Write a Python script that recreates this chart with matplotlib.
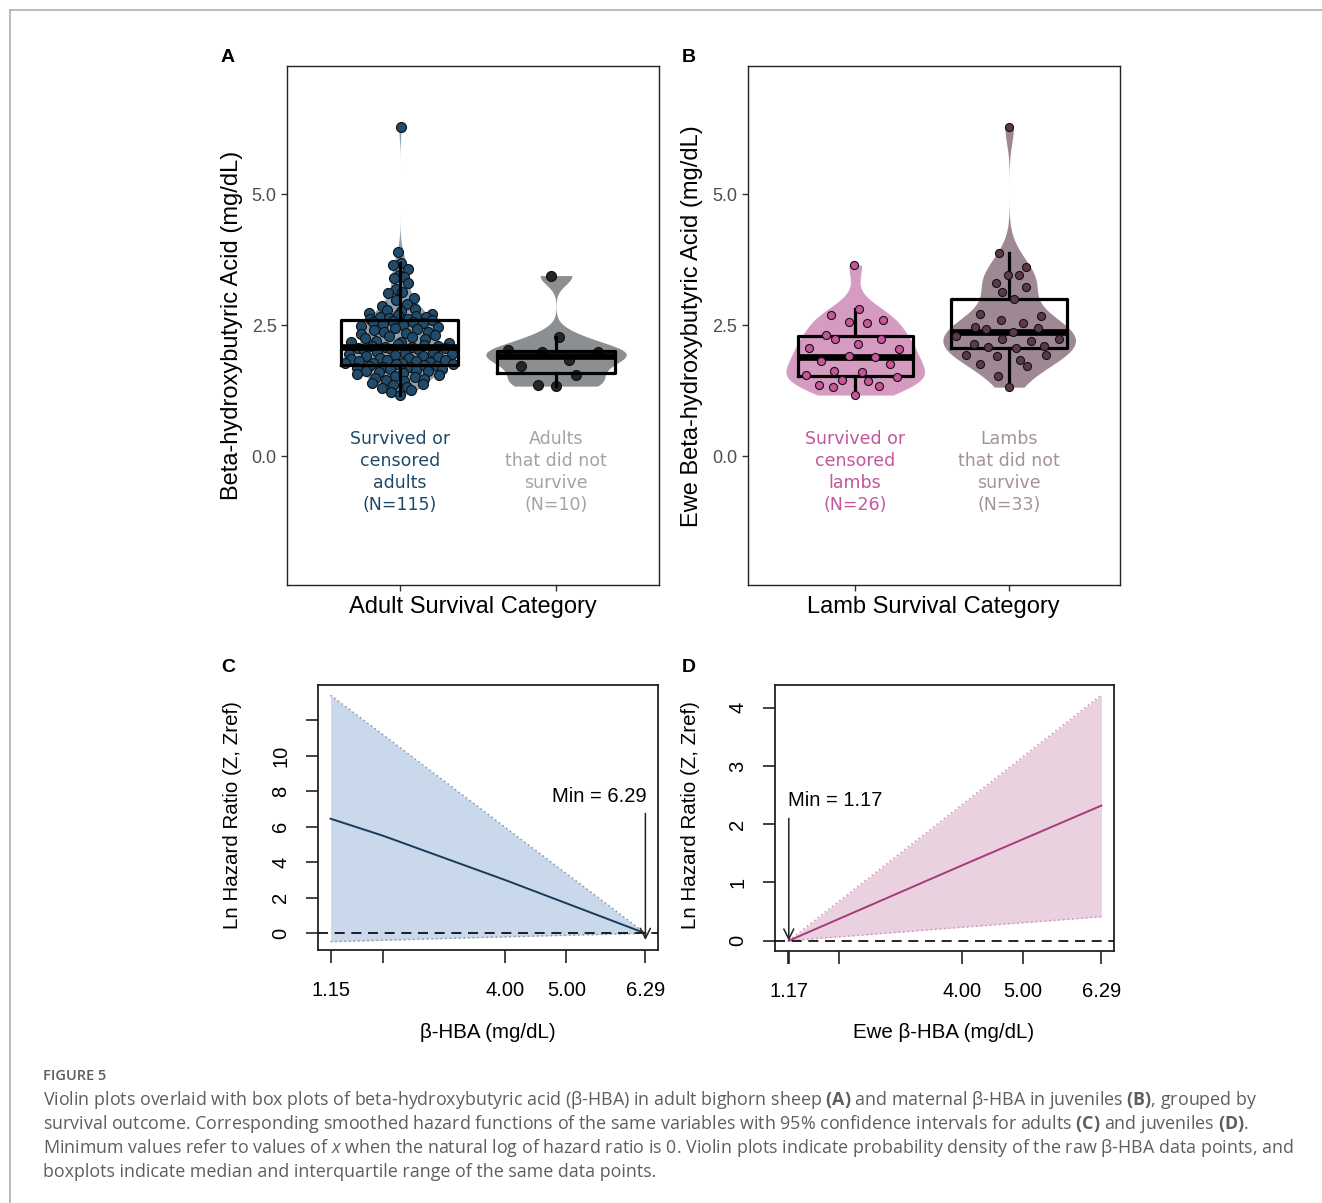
import numpy as np
import matplotlib
matplotlib.use("Agg")
import matplotlib.pyplot as plt
from matplotlib.lines import Line2D

plt.rcParams['font.family'] = ['Liberation Sans', 'DejaVu Sans']
plt.rcParams['mathtext.fontset'] = 'custom'
plt.rcParams['mathtext.rm'] = 'Open Sans'
plt.rcParams['mathtext.it'] = 'Open Sans:italic'
plt.rcParams['mathtext.bf'] = 'Open Sans:bold'

# ---------------- data ----------------
adult_survived = [
    6.29, 3.90, 3.69, 3.65, 3.57, 3.46, 3.43, 3.40, 3.31, 3.20, 3.13, 3.11, 3.02, 2.98,
    2.90, 2.86, 2.82, 2.79, 2.77, 2.74, 2.72, 2.70, 2.68, 2.66, 2.65, 2.64, 2.63, 2.62, 2.61,
    2.59, 2.57, 2.56, 2.54, 2.52, 2.50, 2.48, 2.47, 2.45, 2.43, 2.41, 2.38, 2.37, 2.35,
    2.33, 2.31, 2.29, 2.27, 2.25, 2.24, 2.21, 2.19, 2.18, 2.16, 2.14, 2.13, 2.11, 2.10,
    2.09,
    2.08, 2.07, 2.06, 2.04, 2.03, 2.02, 2.00, 1.99, 1.98, 1.96, 1.95, 1.94, 1.92, 1.91,
    1.90, 1.88, 1.87, 1.86, 1.84, 1.83, 1.82, 1.81, 1.80, 1.79, 1.78, 1.78, 1.77, 1.76,
    1.74, 1.73, 1.72, 1.71, 1.70, 1.69, 1.67, 1.66, 1.65, 1.63, 1.62, 1.60, 1.59, 1.57,
    1.55, 1.53, 1.51, 1.49, 1.47, 1.45, 1.43, 1.40, 1.38, 1.36, 1.33, 1.30, 1.27, 1.22, 1.18,
]
adult_died = [3.45, 2.27, 2.02, 2.00, 1.99, 1.83, 1.73, 1.55, 1.37, 1.34]
lamb_survived = [3.65, 2.82, 2.69, 2.57, 2.54, 2.60, 2.32, 2.24, 2.14, 2.24, 2.06, 2.05, 1.91,
                 1.90, 1.81, 1.77, 1.63, 1.60, 1.56, 1.52, 1.46, 1.43, 1.36, 1.32, 1.35, 1.17]
lamb_died = [6.28, 3.89, 3.61, 3.47, 3.46, 3.31, 3.24, 3.13, 3.00, 2.72, 2.60, 2.67, 2.55,
             2.47, 2.43, 2.45, 2.38, 2.29, 2.24, 2.21, 2.24, 2.14, 2.09, 2.07, 2.11, 1.94,
             1.91, 1.93, 1.77, 1.84, 1.72, 1.53, 1.32]

cat_text_A = [["Survived or", "censored", "adults", "(N=115)"],
              ["Adults", "that did not", "survive", "(N=10)"]]
cat_text_B = [["Survived or", "censored", "lambs", "(N=26)"],
              ["Lambs", "that did not", "survive", "(N=33)"]]
violin_yticks = [0.0, 2.5, 5.0]
violin_yticklabels = ["0.0", "2.5", "5.0"]

haz_x_adult = [1.15, 2.0, 4.0, 6.29]
haz_fit_adult = [6.45, 5.5, 3.0, 0.0]
haz_up_adult = [13.4, 11.2, 5.97, 0.0]
haz_lo_adult = [-0.47, -0.39, -0.2, 0.0]
haz_min_adult = 6.29

haz_x_lamb = [1.17, 4.0, 6.29]
haz_fit_lamb = [0.0, 1.29, 2.32]
haz_up_lamb = [0.0, 2.33, 4.22]
haz_lo_lamb = [0.0, 0.23, 0.41]
haz_min_lamb = 1.17

haz_yticks_adult = [0, 2, 4, 6, 8, 10, 12]
haz_yticklabels_adult = ["0", "2", "4", "6", "8", "10", ""]
haz_yticks_lamb = [0, 1, 2, 3, 4]
haz_yticklabels_lamb = ["0", "1", "2", "3", "4"]
haz_xticks_adult = [1.15, 2.0, 4.0, 5.0, 6.29]
haz_xticklabels_adult = ["1.15", "", "4.00", "5.00", "6.29"]
haz_xticks_lamb = [1.15, 1.17, 2.0, 4.0, 5.0, 6.29]
haz_xticklabels_lamb = ["", "1.17", "", "4.00", "5.00", "6.29"]

# ---------------- figure ----------------
W, H = 1322, 1203
fig = plt.figure(figsize=(W / 100, H / 100), dpi=100)


def add_ax(l, t, r, b):
    return fig.add_axes([l / W, 1 - b / H, (r - l) / W, (b - t) / H])


def fig_text(x, y, s, **kw):
    return fig.text(x / W, 1 - y / H, s, **kw)


# outer frame
fig.add_artist(Line2D([10 / W, 10 / W], [0, 1 - 10 / H], color='#b5b5b5', lw=1.3))
fig.add_artist(Line2D([10 / W, 1], [1 - 10 / H, 1 - 10 / H], color='#b5b5b5', lw=1.3))


def nrd0(x):
    x = np.asarray(x, float)
    sd = x.std(ddof=1)
    q75, q25 = np.percentile(x, [75, 25])
    lo = min(sd, (q75 - q25) / 1.34)
    return 0.9 * lo * len(x) ** -0.2


def kde(x, grid):
    x = np.asarray(x, float)
    bw = nrd0(x)
    z = (np.asarray(grid, float)[:, None] - x[None, :]) / bw
    return np.exp(-0.5 * z ** 2).sum(1) / (len(x) * bw * np.sqrt(2 * np.pi))


def van_der_corput(n, base=2):
    out = []
    for i in range(1, n + 1):
        q, denom, k = 0.0, 1.0, i
        while k > 0:
            denom *= base
            k, r = divmod(k, base)
            q += r / denom
        out.append(q)
    return np.array(out)


def quasirandom(vals, width):
    v = np.asarray(vals, float)
    grid = np.linspace(v.min(), v.max(), 400)
    dmax = kde(v, grid).max()
    d = kde(v, v) / dmax
    ranks = np.argsort(np.argsort(v, kind='stable'), kind='stable')
    off = van_der_corput(len(v))[ranks]
    return (off - 0.5) * 2 * width * d


def violin_panel(ax, groups, vcolors, pcolors, psize, texts, tcolors, box_on_top):
    grids = [np.linspace(min(g), max(g), 400) for g in groups]
    dens = [kde(g, gr) for g, gr in zip(groups, grids)]
    dmax = max(d.max() for d in dens)
    for k, (g, gr, d) in enumerate(zip(groups, grids, dens)):
        pos = k + 1
        hw = 0.45 * d / dmax
        ax.fill_betweenx(gr, pos - hw, pos + hw, color=vcolors[k], lw=0, zorder=1)
        off = quasirandom(g, 0.37)
        ax.scatter(np.full(len(g), pos) + off, g, s=psize ** 2, c=pcolors[k],
                   edgecolors='#111111', linewidths=0.8, zorder=2 if box_on_top else 4)
        ax.boxplot([g], positions=[pos], widths=0.75, showfliers=False, showcaps=False,
                   manage_ticks=False,
                   boxprops=dict(color='black', lw=2.3),
                   whiskerprops=dict(color='black', lw=2.3),
                   medianprops=dict(color='black', lw=4.8, solid_capstyle='butt'),
                   zorder=3)
        for j, line in enumerate(texts[k]):
            ax.text(pos, (456.3 - (439 + 22 * j)) / 52.4, line, ha='center', va='center',
                    color=tcolors[k], fontsize=12.5, family='DejaVu Sans', zorder=5)
    ax.set_ylim(-2.456, 7.45)
    ax.set_yticks(violin_yticks)
    ax.set_yticklabels(violin_yticklabels)
    ax.set_xticks([1, 2])
    ax.set_xticklabels(["", ""])
    for s in ax.spines.values():
        s.set_linewidth(1.0)
        s.set_color('#222222')
    ax.tick_params(length=4.5, width=1.0, color='#333333', labelsize=13,
                   labelcolor='#4d4d4d', pad=3)


axA = add_ax(287, 66, 659, 585)
violin_panel(axA, [adult_survived, adult_died], ['#8ba3b5', '#8c8f92'],
             ['#1f4c6c', '#262626'], 7.2, cat_text_A,
             ['#1d4a6a', '#a3a3a3'], True)
axA.set_xlim(0.276, 2.66)

axB = add_ax(747.5, 66, 1120, 585)
violin_panel(axB, [lamb_survived, lamb_died], ['#d69bc0', '#9e8893'],
             ['#c9559c', '#5c3a4c'], 5.8, cat_text_B,
             ['#c4569a', '#a3929a'], False)
axB.set_xlim(0.30, 2.72)

lab_kw = dict(fontsize=17, color='black')
fig_text(232, 325, "Beta-hydroxybutyric Acid (mg/dL)", rotation=90, ha='center', va='center', **lab_kw)
fig_text(692, 326, "Ewe Beta-hydroxybutyric Acid (mg/dL)", rotation=90, ha='center', va='center', **lab_kw)
fig_text(473, 607, "Adult Survival Category", ha='center', va='center', **lab_kw)
fig_text(933, 607, "Lamb Survival Category", ha='center', va='center', **lab_kw)

for s, (x, y) in zip("ABCD", [(228, 56), (689, 56), (228, 666), (689, 666)]):
    fig_text(x, y + 1, s, fontsize=14, fontweight='bold', ha='center', va='center')


def hazard_panel(ax, xs, fit, up, lo, fill, linec, edgec, ymin_lim, ymax_lim,
                 yt, ytl, xt, xtl, xmin, arrow_top, arrow_tip, text_xy, text_ha):
    ax.fill_between(xs, lo, up, color=fill, lw=0, zorder=1)
    ax.plot(xs, up, color=edgec, lw=1.1, ls=(0, (1, 2)), zorder=2)
    ax.plot(xs, lo, color=edgec, lw=1.1, ls=(0, (1, 2)), zorder=2)
    ax.plot(xs, fit, color=linec, lw=1.4, zorder=3)
    ax.axhline(0, color='black', lw=1.2, ls=(0, (6, 4)), zorder=4)
    ax.annotate("", xy=(xmin, arrow_tip), xytext=(xmin, arrow_top),
                arrowprops=dict(arrowstyle='->', color='#222222', lw=1.1,
                                mutation_scale=18, shrinkA=0, shrinkB=0), zorder=5)
    ax.text(text_xy[0], text_xy[1], "Min = %.2f" % xmin, ha=text_ha, va='center',
            fontsize=14.5, zorder=5)
    ax.set_xlim(0.944, 6.496)
    ax.set_ylim(ymin_lim, ymax_lim)
    ax.set_xticks(xt)
    ax.set_xticklabels(xtl)
    ax.set_yticks(yt)
    ax.set_yticklabels(ytl)
    for lab in ax.get_yticklabels():
        lab.set_rotation(90)
        lab.set_va('center')
        lab.set_ha('right')
    ax.tick_params(length=9, width=1.2, color='#222222', labelsize=14.5, pad=11)
    ax.tick_params(axis='x', pad=13)
    for s in ax.spines.values():
        s.set_linewidth(1.3)
        s.set_color('#222222')


axC = add_ax(318, 685, 658, 950)
hazard_panel(axC, haz_x_adult, haz_fit_adult, haz_up_adult, haz_lo_adult,
             '#c9d9eb', '#1b3a5a', '#8894a6', -0.94, 13.98,
             haz_yticks_adult, haz_yticklabels_adult, haz_xticks_adult, haz_xticklabels_adult,
             haz_min_adult, 6.75, -0.38, (6.31, 7.7), 'right')

axD = add_ax(775, 685, 1114, 951)
hazard_panel(axD, haz_x_lamb, haz_fit_lamb, haz_up_lamb, haz_lo_lamb,
             '#e9d1e0', '#a63a7c', '#d98cbc', -0.177, 4.39,
             haz_yticks_lamb, haz_yticklabels_lamb, haz_xticks_lamb, haz_xticklabels_lamb,
             haz_min_lamb, 2.10, 0.0, (1.155, 2.40), 'left')

fig_text(233, 815, "Ln Hazard Ratio (Z, Zref)", rotation=90, ha='center', va='center', fontsize=14.8)
fig_text(690, 815, "Ln Hazard Ratio (Z, Zref)", rotation=90, ha='center', va='center', fontsize=14.8)
fig_text(488, 1033, "β-HBA (mg/dL)", ha='center', va='center', fontsize=14.8)
fig_text(944, 1033, "Ewe β-HBA (mg/dL)", ha='center', va='center', fontsize=14.8)

# ---------------- caption ----------------
cap_col = '#5e5e5e'
fig_text(43, 1076, "FIGURE 5", fontsize=10.5, fontweight='semibold', family='Open Sans',
         color=cap_col, ha='left', va='center')
caption = [
    r"Violin plots overlaid with box plots of beta-hydroxybutyric acid (β-HBA) in adult bighorn sheep $\mathbf{(A)}$ and maternal β-HBA in juveniles $\mathbf{(B)}$, grouped by",
    r"survival outcome. Corresponding smoothed hazard functions of the same variables with 95% confidence intervals for adults $\mathbf{(C)}$ and juveniles $\mathbf{(D)}$.",
    r"Minimum values refer to values of $\mathit{x}$ when the natural log of hazard ratio is 0. Violin plots indicate probability density of the raw β-HBA data points, and",
    r"boxplots indicate median and interquartile range of the same data points.",
]
for i, line in enumerate(caption):
    fig_text(43, 1100 + 24 * i, line, fontsize=12.9, family='Open Sans', color=cap_col,
             ha='left', va='center')

fig.savefig("out.png", dpi=100)
